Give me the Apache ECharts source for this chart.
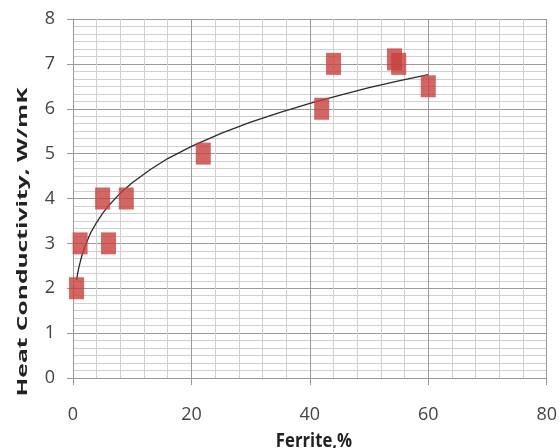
<!DOCTYPE html>
<html>
<head>
<meta charset="utf-8">
<script src="https://cdn.jsdelivr.net/npm/echarts@6/dist/echarts.min.js"></script>
<style>html,body{margin:0;padding:0;background:#fff}#c{width:560px;height:448px}</style>
</head>
<body>
<div id="c"></div>
<script>
// Measured points: Ferrite (%) vs Heat Conductivity (W/mK)
var ferrite = [0.6, 1.2, 6, 5, 9, 22, 42, 44, 54.3, 55, 60];
var conductivity = [2, 3, 3, 4, 4, 5, 6, 7, 7.1, 7.0, 6.5];
// Trend line
var trendX = [0.6, 0.8, 1, 1.5, 2, 3, 4, 5, 6, 8, 10, 13, 16, 20, 25, 30, 35, 40, 45, 50, 55, 60];
var trendY = [2.18, 2.34, 2.47, 2.73, 2.93, 3.24, 3.47, 3.67, 3.84, 4.12, 4.35, 4.64, 4.89, 5.16, 5.45, 5.70, 5.92, 6.12, 6.30, 6.47, 6.62, 6.76];
var xTicks = [0, 20, 40, 60, 80];
var yTicks = [0, 1, 2, 3, 4, 5, 6, 7, 8];

var scatterData = ferrite.map(function (x, i) { return [x, conductivity[i]]; });
var trendData = trendX.map(function (x, i) { return [x, trendY[i]]; });

var chart = echarts.init(document.getElementById('c'));
var labelFont = '"Open Sans", sans-serif';
chart.setOption({
  animation: false,
  grid: { left: 73, right: 8, top: 19, bottom: 70 },
  xAxis: {
    type: 'value', min: xTicks[0], max: xTicks[xTicks.length - 1], interval: 20,
    axisLine: { show: true, lineStyle: { color: '#999', width: 1 } },
    axisTick: { show: true, length: 7, lineStyle: { color: '#999' } },
    axisLabel: { margin: 28, fontSize: 18, color: '#444', fontFamily: labelFont },
    splitLine: { show: true, lineStyle: { color: '#9a9a9a', width: 1 } },
    minorTick: { show: false, splitNumber: 5 },
    minorSplitLine: { show: true, lineStyle: { color: '#d0d0d0', width: 1 } }
  },
  yAxis: {
    type: 'value', min: yTicks[0], max: yTicks[yTicks.length - 1], interval: 1,
    axisLine: { show: true, lineStyle: { color: '#999', width: 1 } },
    axisTick: { show: true, length: 6, lineStyle: { color: '#999' } },
    axisLabel: { margin: 18, fontSize: 18, color: '#444', fontFamily: labelFont },
    splitLine: { show: true, lineStyle: { color: '#9a9a9a', width: 1 } },
    minorTick: { show: false, splitNumber: 6 },
    minorSplitLine: { show: true, lineStyle: { color: '#d0d0d0', width: 1 } }
  },
  graphic: [
    {
      type: 'text', x: 314, y: 441, scaleX: 0.88, scaleY: 1.05,
      style: { text: 'Ferrite,%', fontSize: 19, fontWeight: 'bold', fill: '#222',
               fontFamily: labelFont, textAlign: 'center', textVerticalAlign: 'middle' }
    },
    {
      type: 'text', x: 23, y: 242, rotation: Math.PI / 2, scaleX: 1.64, scaleY: 1,
      style: { text: 'Heat Conductivity, W/mK', fontSize: 15, fontWeight: 'bold', fill: '#222',
               fontFamily: labelFont, textAlign: 'center', textVerticalAlign: 'middle' }
    }
  ],
  series: [
    {
      type: 'line', data: trendData, smooth: false, showSymbol: false, symbol: 'none',
      lineStyle: { color: '#2a2a2a', width: 1.3 }, z: 3
    },
    {
      type: 'scatter', data: scatterData, symbol: 'rect', symbolSize: [15, 22],
      itemStyle: { color: '#c8403c' }, z: 4
    }
  ]
});
</script>
</body>
</html>
